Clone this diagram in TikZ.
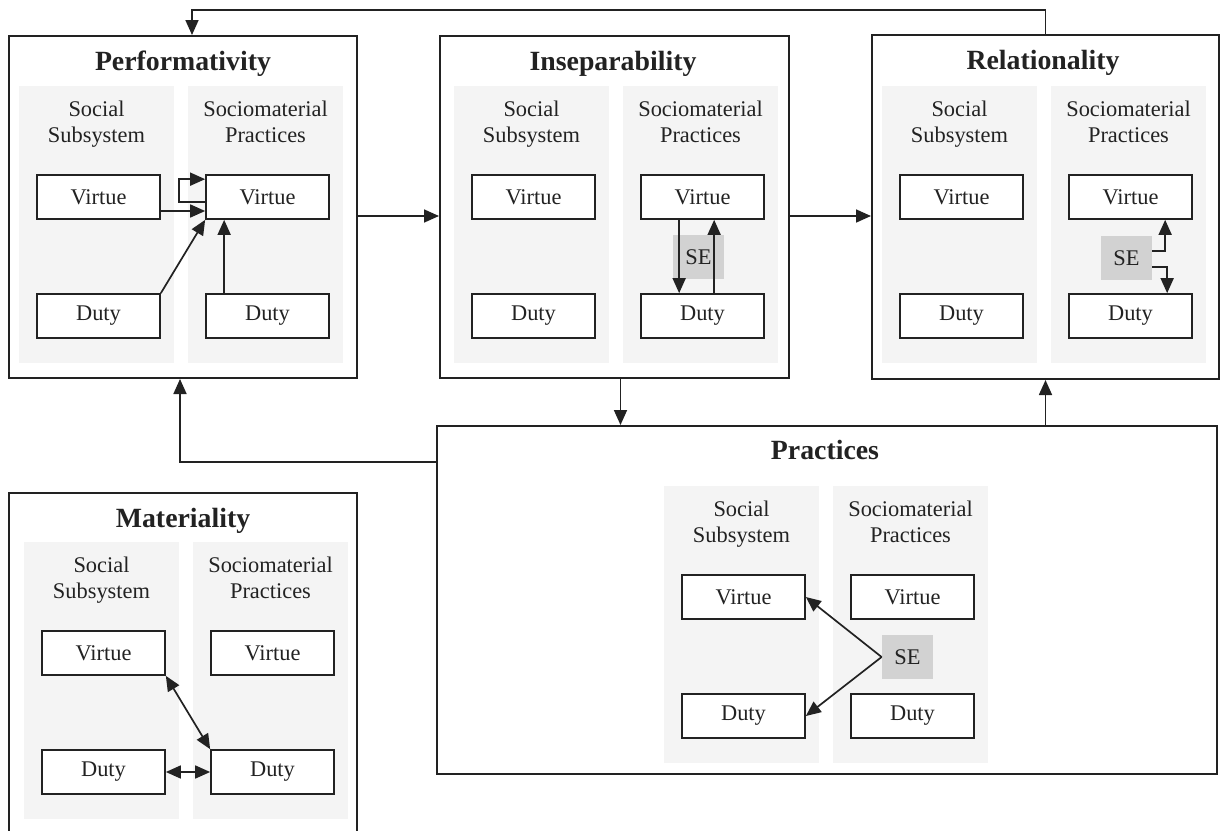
\documentclass[tikz,border=0pt]{standalone}
\usepackage{fontspec}
\setmainfont{Liberation Serif}
\usetikzlibrary{arrows.meta,calc,fit}

\definecolor{ink}{HTML}{222222}
\definecolor{panelgray}{HTML}{F4F4F4}
\definecolor{segray}{HTML}{D2D2D2}

\tikzset{
  frame/.style={draw=ink, line width=1pt, inner sep=0pt, fill=none},
  panel/.style={fill=panelgray},
  head/.style={anchor=base, inner sep=0pt, text=ink, font=\fontsize{11.2}{13}\selectfont},
  title/.style={anchor=base, inner sep=0pt, text=ink, font=\fontsize{13.9}{16}\selectfont\bfseries},
  cell/.style={draw=ink, line width=0.85pt, fill=white, minimum width=61.5pt, minimum height=22pt,
    inner sep=0pt, text=ink, font=\fontsize{11.2}{13}\selectfont},
  sebox/.style={fill=segray, minimum width=25.5pt, minimum height=22pt, inner sep=0pt,
    text=ink, font=\fontsize{11.2}{13}\selectfont},
  arr/.style={draw=ink, line width=0.85pt, -{Triangle[length=7.5pt,width=6.5pt]}},
  biarr/.style={draw=ink, line width=0.85pt, {Triangle[length=7.5pt,width=6.5pt]}-{Triangle[length=7.5pt,width=6.5pt]}}
}

% Two shaded columns with their headings and the four Virtue/Duty cells
\newcommand\virtuedutyblock[3]{%
  \begin{scope}[shift={(#2,#3)}]
    \fill[panel] (0,0) rectangle (155,277);
    \fill[panel] (169,0) rectangle (324,277);
    \node[head] (#1-h1a) at (77.5,30) {Social};
    \node[head] (#1-h1b) at (77.5,56) {Subsystem};
    \node[head] (#1-h2a) at (246.5,30) {Sociomaterial};
    \node[head] (#1-h2b) at (246.5,56) {Practices};
    \node[cell] (#1-sv) at (79.5,111) {Virtue};
    \node[cell] (#1-sd) at (79.5,230) {Duty};
    \node[cell] (#1-mv) at (248.5,111) {Virtue};
    \node[cell] (#1-md) at (248.5,230) {Duty};
  \end{scope}}

\begin{document}
\begin{tikzpicture}[x=0.5pt, y=-0.5pt]
  \useasboundingbox (0,0) rectangle (1223,831);
  \fill[white] (0,0) rectangle (1223,831);

  % outer frames
  \node[frame, fit={(9,36) (357,378)}] (perf) {};
  \node[frame, fit={(440,36) (789,378)}] (insep) {};
  \node[frame, fit={(872,35) (1219,379)}] (rel) {};
  \node[frame, fit={(437,426) (1217,774)}] (prac) {};
  \draw[draw=ink, line width=1pt] (9,835) |- (357,493) -- (357,835);

  % titles
  \node[title] (perf-t) at (183,70) {Performativity};
  \node[title] (insep-t) at (613,70) {Inseparability};
  \node[title] (rel-t) at (1043,69) {Relationality};
  \node[title] (prac-t) at (825,459) {Practices};
  \node[title] (mat-t) at (183,527) {Materiality};

  % contents
  \virtuedutyblock{perf}{19}{86}
  \virtuedutyblock{insep}{454}{86}
  \virtuedutyblock{rel}{882}{86}
  \virtuedutyblock{prac}{664}{486}
  \virtuedutyblock{mat}{24}{542}

  % SE markers
  \node[sebox] (insep-se) at (698.5,257) {SE};
  \node[sebox] (rel-se) at (1126.5,258) {SE};
  \node[sebox] (prac-se) at (907.5,657) {SE};

  % Performativity links
  \draw[arr] ($(perf-mv.west)+(0,5)$) -- ++(-26,0) |- ($(perf-mv.north west)+(0,5)$);
  \draw[arr] ($(perf-sv.east)+(0,14)$) -- ($(perf-mv.west)+(0,14)$);
  \draw[arr] (perf-sd.north east) -- (perf-mv.south west);
  \draw[arr] ($(perf-md.north west)+(19,0)$) -- ($(perf-mv.south west)+(19,0)$);

  % Inseparability links
  \draw[arr] ($(insep-mv.south west)+(39,0)$) -- ($(insep-md.north west)+(39,0)$);
  \draw[arr] ($(insep-md.north west)+(74,0)$) -- ($(insep-mv.south west)+(74,0)$);

  % Relationality links
  \draw[arr] ($(rel-se.east)+(0,-7)$) -| ($(rel-mv.south west)+(97,0)$);
  \draw[arr] ($(rel-se.east)+(0,9)$) -| ($(rel-md.north west)+(99,0)$);

  % Practices links
  \draw[arr] (prac-se.west) -- (prac-sv.east);
  \draw[arr] (prac-se.west) -- (prac-sd.east);

  % Materiality links
  \draw[biarr] (mat-sv.south east) -- (mat-md.north west);
  \draw[biarr] (mat-sd.east) -- (mat-md.west);

  % links between frames
  \coordinate (insep-out) at ($(insep.south)+(6,0)$);
  \coordinate (perf-in-top) at ($(perf.north)+(9,0)$);
  \coordinate (perf-in-bottom) at ($(perf.south)+(-3,0)$);
  \coordinate (prac-out-left) at ($(prac.north west)+(0,37)$);
  \draw[arr] (rel.north) -- ++(0,-24) -| (perf-in-top);
  \draw[arr] (perf.east |- 0,216) -- (insep.west |- 0,216);
  \draw[arr] (insep.east |- 0,216) -- (rel.west |- 0,216);
  \draw[arr] (insep-out) -- (insep-out |- prac.north);
  \draw[arr] (rel.south |- prac.north) -- (rel.south);
  \draw[arr] (prac-out-left) -| (perf-in-bottom);
\end{tikzpicture}
\end{document}
